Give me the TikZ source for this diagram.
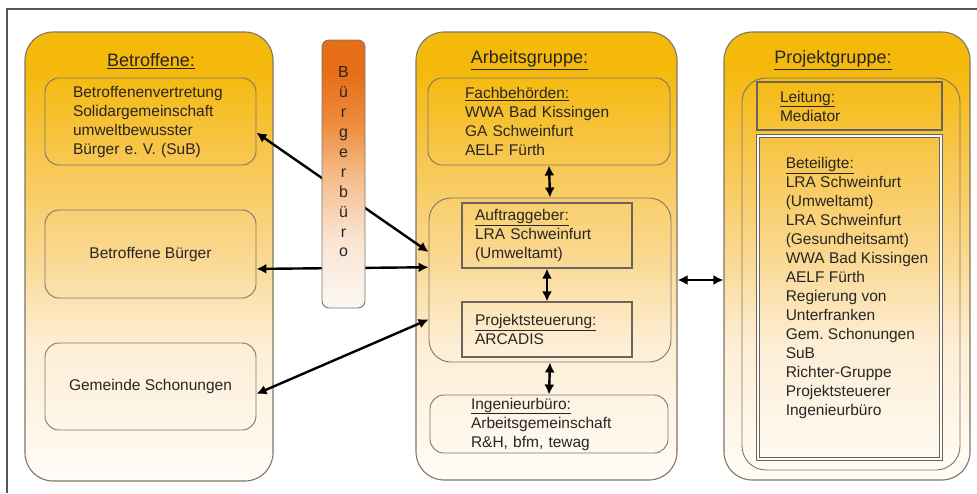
\documentclass[tikz,border=0pt]{standalone}
\usepackage{fontspec}
\setmainfont{Liberation Sans}
\usetikzlibrary{positioning,arrows.meta}
\frenchspacing

\definecolor{edgegray}{RGB}{128,118,100}
\definecolor{boxgray}{RGB}{125,118,108}
\definecolor{textgray}{RGB}{40,38,36}
\definecolor{framegray}{RGB}{85,85,85}
\definecolor{fadeA}{RGB}{255,252,247}
\definecolor{fadeB}{RGB}{253,238,214}
\definecolor{fadeC}{RGB}{250,216,145}
\definecolor{fadeD}{RGB}{247,197,72}
\definecolor{goldtop}{RGB}{244,185,10}
\definecolor{barA}{RGB}{251,247,243}
\definecolor{barB}{RGB}{250,228,210}
\definecolor{barC}{RGB}{245,186,135}
\definecolor{barD}{RGB}{237,138,58}
\definecolor{barE}{RGB}{230,110,22}

\pgfdeclareverticalshading{panelfade}{100bp}{color(0bp)=(fadeA); color(25bp)=(fadeA); color(40bp)=(fadeB); color(50bp)=(fadeC); color(62bp)=(fadeD); color(71bp)=(goldtop); color(100bp)=(goldtop)}
\pgfdeclareverticalshading{barfade}{100bp}{color(0bp)=(barA); color(25bp)=(barA); color(38bp)=(barB); color(50bp)=(barC); color(60bp)=(barD); color(69bp)=(barE); color(100bp)=(barE)}

\begin{document}
\begin{tikzpicture}[x=1pt,y=-1pt,
  txt/.style={font=\fontsize{15.5}{19}\selectfont,text=textgray},
  heading/.style={font=\fontsize{18}{22}\selectfont,text=black!85},
  panel/.style={draw=edgegray,line width=1.1pt,rounded corners=28pt,shade,shading=panelfade,inner sep=0pt},
  subbox/.style={draw=boxgray,line width=0.9pt,rounded corners=14pt,inner sep=0pt,align=left,txt},
  sharpbox/.style={draw=boxgray!85!black,line width=1.2pt,inner sep=0pt,align=left,txt},
  link/.style={line width=2.4pt,{Latex[length=10pt,width=10pt]}-{Latex[length=10pt,width=10pt]}}]
\useasboundingbox (0,0) rectangle (977,493);
\draw[framegray,line width=2.2pt] (977,9) -- (7,9) -- (7,493);

% three columns
\node[panel,minimum width=248pt,minimum height=449pt] (betr) at (149,256.5) {};
\node[panel,minimum width=261pt,minimum height=448pt] (arbeit) at (546.5,256) {};
\node[panel,minimum width=246pt,minimum height=448pt] (projekt) at (847,256) {};
\node[heading] (betrTitle) at (151,61) {\underline{Betroffene:}};
\node[heading] (arbeitTitle) at (529.5,60) {\underline{Arbeitsgruppe:}};
\node[heading] (projektTitle) at (833,60) {\underline{Projektgruppe:}};

% Betroffene
\node[subbox,minimum width=211pt,minimum height=87pt,text width=155pt] (vertretung) at (150.5,121.5)
  {Betroffenenvertretung\\Solidargemeinschaft\\umweltbewusster\\Bürger e. V. (SuB)};
\node[subbox,minimum width=211pt,minimum height=88pt,align=center] (buerger) at (150.5,254) {Betroffene Bürger};
\node[subbox,minimum width=211pt,minimum height=87pt,align=center] (gemeinde) at (150.5,386.5) {Gemeinde Schonungen};

% Arbeitsgruppe
\node[subbox,minimum width=242pt,minimum height=87pt,text width=168pt] (fach) at (549,121.5)
  {\underline{Fachbehörden:}\\WWA Bad Kissingen\\GA Schweinfurt\\AELF Fürth};
\node[subbox,rounded corners=22pt,minimum width=242pt,minimum height=164pt] (steuer) at (550,280) {};
\node[sharpbox,minimum width=170pt,minimum height=65pt,text width=144pt] (auftrag) at (547,235.5)
  {\underline{Auftraggeber:}\\LRA Schweinfurt\\(Umweltamt)};
\node[sharpbox,minimum width=170pt,minimum height=55pt,text width=144pt] (projst) at (547,329.5)
  {\underline{Projektsteuerung:}\\ARCADIS};
\node[subbox,minimum width=238pt,minimum height=58pt,text width=156pt] (ingenieur) at (549,424)
  {\underline{Ingenieurbüro:}\\Arbeitsgemeinschaft\\R\&H, bfm, tewag};

% Projektgruppe
\node[subbox,rounded corners=24pt,minimum width=218pt,minimum height=392pt] (pgin) at (851,274) {};
\node[sharpbox,minimum width=185pt,minimum height=48pt,text width=139pt] (leitung) at (849.5,106)
  {\underline{Leitung:}\\Mediator};
\node[draw=boxgray!85!black,line width=0.9pt,double=fadeA,double distance=1.6pt,minimum width=183pt,minimum height=323pt] (beteiligte) at (849.5,297.5) {};
\node[txt,align=left,inner sep=0pt,below right=22pt and 28pt of beteiligte.north west] (beteiligteText)
  {\underline{Beteiligte:}\\LRA Schweinfurt\\(Umweltamt)\\LRA Schweinfurt\\(Gesundheitsamt)\\WWA Bad Kissingen\\AELF Fürth\\Regierung von\\Unterfranken\\Gem. Schonungen\\SuB\\Richter-Gruppe\\Projektsteuerer\\Ingenieurbüro};

% connections
\draw[link] (vertretung.354) -- (steuer.167);
\draw[link] (buerger.352) -- (steuer.174);
\draw[link] (gemeinde.356) -- (steuer.198);
\draw[link] (fach.south) -- (steuer.north);
\draw[link] (auftrag.south) -- (projst.north);
\draw[link] (steuer.south) -- (ingenieur.north);
\draw[link] ([yshift=-24pt]arbeit.east) -- ([yshift=-24pt]projekt.west);

% Buergerbuero
\node[draw=boxgray,line width=0.9pt,rounded corners=7pt,shade,shading=barfade,minimum width=43pt,minimum height=268pt] (buero) at (343.5,174) {};
\node[txt,align=center,font=\fontsize{16}{19.9}\selectfont] (bueroText) at (343.5,162) {B\\ü\\r\\g\\e\\r\\b\\ü\\r\\o};
\end{tikzpicture}
\end{document}
